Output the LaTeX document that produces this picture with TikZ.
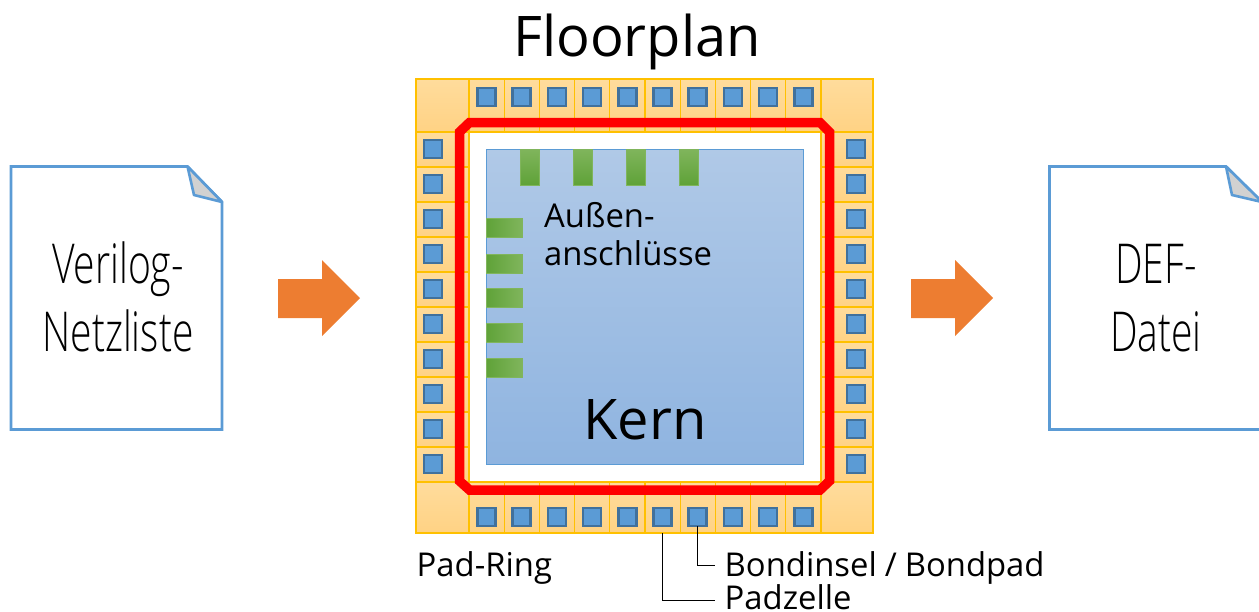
\documentclass[tikz,border=0pt]{standalone}
\usepackage{fontspec}
\setmainfont{Open Sans}
\newfontfamily\condf[FakeStretch=0.71]{Open Sans Light}
\definecolor{cellline}{HTML}{FFC000}
\definecolor{celltop}{HTML}{FFDC9C}
\definecolor{cellbot}{HTML}{FFD284}
\definecolor{padfill}{HTML}{5B9BD5}
\definecolor{padline}{HTML}{41719C}
\definecolor{coretop}{HTML}{B0C9E7}
\definecolor{corebot}{HTML}{8FB4E0}
\definecolor{docline}{HTML}{5B9BD5}
\definecolor{pinlight}{HTML}{80B55C}
\definecolor{pindark}{HTML}{5FA238}
\definecolor{arrowfill}{HTML}{ED7D31}
\tikzset{
  x=1pt,y=-1pt,
  cellbox/.style={draw=cellline,line width=1.2pt,top color=celltop,bottom color=cellbot,shading angle=0},
  padbox/.style={draw=padline,line width=2.6pt,fill=padfill,minimum size=18pt,inner sep=0pt,outer sep=0pt},
  pinbox/.style={draw=pinlight,line width=.6pt,fill=pinlight},
  docbox/.style={draw=docline,line width=2.8pt,fill=white,line join=miter},
  foldbox/.style={draw=docline,line width=2.6pt,fill=black!18,line join=round},
  bigarrow/.style={fill=arrowfill,draw=none},
  leader/.style={draw=black,line width=1pt},
  condtext/.style={font=\condf\fontsize{55}{60}\selectfont,align=center,text=black,inner sep=0pt,text depth=0pt},
  lab/.style={font=\fontsize{32.8}{38}\selectfont,anchor=base west,inner sep=0pt,text=black},
}
\begin{document}
\begin{tikzpicture}
\useasboundingbox (0,0) rectangle (1259,611);
% pad ring cells
\path[cellbox] (416,79) rectangle (469,132);
\path[cellbox] (821,79) rectangle (873,132);
\path[cellbox] (416,482) rectangle (469,533);
\path[cellbox] (821,482) rectangle (873,533);
\foreach \i in {0,...,9}{
  \pgfmathsetmacro{\xa}{469+35.2*\i}
  \pgfmathsetmacro{\xb}{469+35.2*(\i+1)}
  \pgfmathsetmacro{\xc}{486.5+35.2*\i}
  \pgfmathsetmacro{\ya}{132+35*\i}
  \pgfmathsetmacro{\yb}{132+35*(\i+1)}
  \pgfmathsetmacro{\yc}{149+35*\i}
  \path[cellbox] (\xa,79) rectangle (\xb,132);
  \path[cellbox] (\xa,482) rectangle (\xb,533);
  \path[cellbox] (416,\ya) rectangle (469,\yb);
  \path[cellbox] (821,\ya) rectangle (873,\yb);
  \node[padbox] (padT\i) at (\xc,97) {};
  \node[padbox] (padB\i) at (\xc,517) {};
  \node[padbox] (padL\i) at (433,\yc) {};
  \node[padbox] (padR\i) at (856,\yc) {};
}
% white interior
\fill[white] (469,132) rectangle (821,482);
\draw[cellline,line width=1.2pt] (469,132) rectangle (821,482);
% core
\node[draw=docline,line width=1pt,top color=coretop,bottom color=corebot,minimum width=317pt,minimum height=315pt,inner sep=0pt,outer sep=0pt] (core) at (645,306.5) {};
% pins
\foreach \x in {520,573,626,679} \path[pinbox,top color=pinlight,bottom color=pindark] (\x,149) rectangle (\x+19,185);
\foreach \y in {218,254,288,323,358} \path[pinbox,left color=pindark,right color=pinlight] (486,\y) rectangle (522,\y+19);
% red ring
\draw[red,line width=9.5pt,line join=miter] (469.5,122.5) -- (820,122.5) -- (829.5,132) -- (829.5,481) -- (820,490) -- (469.5,490) -- (459.5,481) -- (459.5,132) -- cycle;
% documents
\draw[docbox] (11,166.5) -- (187.5,166.5) -- (222,202) -- (222,429.5) -- (11,429.5) -- cycle;
\draw[foldbox] (187.5,166.5) -- (194,195) -- (222,202) -- cycle;
\draw[docbox] (1049.5,166.5) -- (1226,166.5) -- (1262,202) -- (1262,429.5) -- (1049.5,429.5) -- cycle;
\draw[foldbox] (1226,166.5) -- (1232,195) -- (1262,202) -- cycle;
% doc texts
\node[condtext,anchor=base] (vl1) at (118,283) {Verilog-};
\node[condtext,anchor=base] (vl2) at (118,351) {Netzliste};
\node[condtext,anchor=base] (df1) at (1156,283) {DEF-};
\node[condtext,anchor=base] (df2) at (1156,351) {Datei};
% arrows
\path[bigarrow] (278,279) -- (322,279) -- (322,260) -- (360,298) -- (322,336) -- (322,318) -- (278,318) -- cycle;
\path[bigarrow] (911,279) -- (955,279) -- (955,260) -- (993,298) -- (955,336) -- (955,318) -- (911,318) -- cycle;
% texts
\node[font=\fontsize{56}{60}\selectfont,anchor=base,inner sep=0pt] (title) at (637,56) {Floorplan};
\node[font=\fontsize{32.8}{38}\selectfont,anchor=base west,inner sep=0pt] (aus1) at (544,227) {Außen-};
\node[font=\fontsize{32.8}{38}\selectfont,anchor=base west,inner sep=0pt] (aus2) at (544,265) {anschlüsse};
\node[font=\fontsize{56}{60}\selectfont,anchor=base,inner sep=0pt] (kern) at (645,439) {Kern};
\node[lab] (ring) at (416.5,576.5) {Pad-Ring};
\node[lab] (bond) at (724.5,576) {Bondinsel\kern8pt/\kern8pt Bondpad};
\node[lab] (zelle) at (724.5,609) {Padzelle};
% leaders
\coordinate (bondend) at (715,565.5);
\coordinate (zelleend) at (715,600);
\draw[leader] (padB6.south) -- (padB6.south |- bondend) -- (bondend);
\coordinate (cellfoot) at (662,533);
\draw[leader] (cellfoot) -- (cellfoot |- zelleend) -- (zelleend);
\end{tikzpicture}
\end{document}
